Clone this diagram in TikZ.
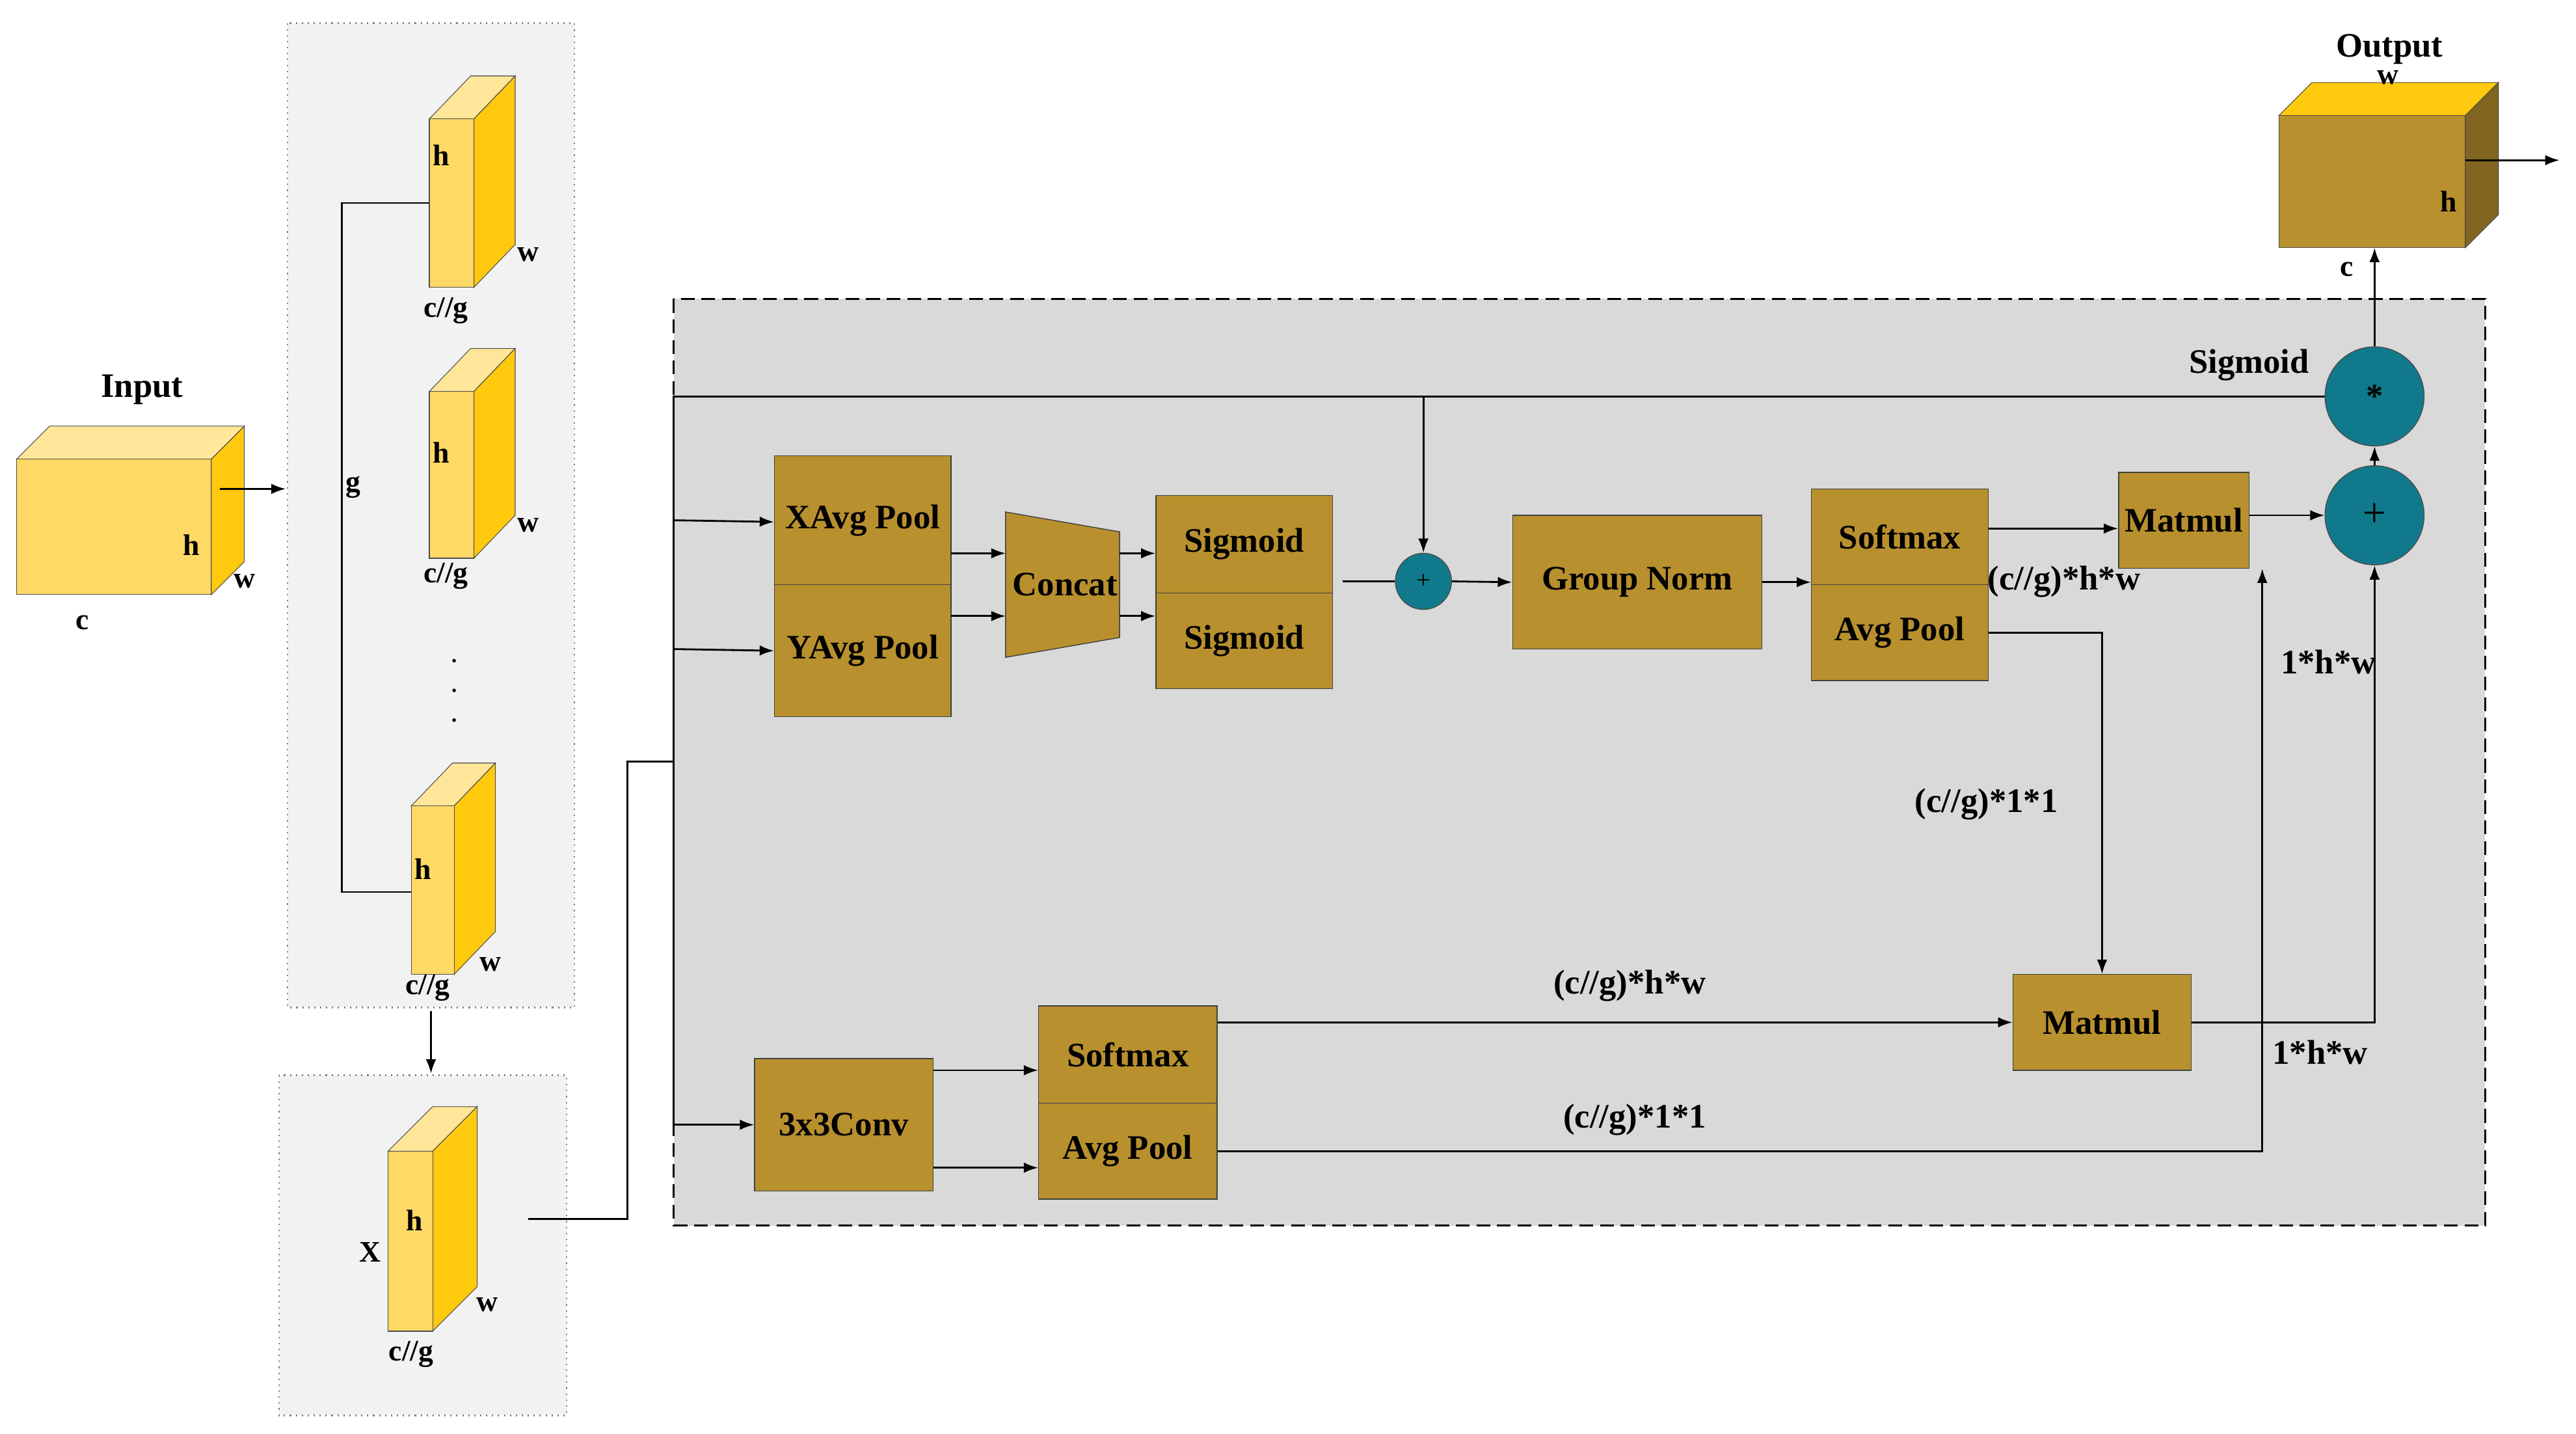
\documentclass[tikz,border=0pt]{standalone}
\usepackage{fontspec}
\setmainfont{Liberation Serif}
\usetikzlibrary{arrows.meta,fit,calc}
\definecolor{boxc}{HTML}{B8902E}
\definecolor{cfront}{HTML}{FFD966}
\definecolor{cside}{HTML}{FFC90E}
\definecolor{ctop}{HTML}{FFE699}
\definecolor{teal}{HTML}{107A8C}
\newcommand\pu{0.02538cm}
% cube: x1 y1 x2 y2 (front) dx dy front side top
\newcommand\mycube[9]{%
 \filldraw[draw=gray!60!black,line width=0.3pt,fill=#9] (#1,#2)--++(#5,-#6)--(#3+#5,#2-#6)--(#3,#2)--cycle;
 \filldraw[draw=gray!60!black,line width=0.3pt,fill=#8] (#3,#2)--(#3+#5,#2-#6)--(#3+#5,#4-#6)--(#3,#4)--cycle;
 \filldraw[draw=gray!60!black,line width=0.3pt,fill=#7] (#1,#2) rectangle (#3,#4);}
\begin{document}
\begin{tikzpicture}[x=\pu,y=-\pu,
 font=\fontsize{15}{18}\selectfont\bfseries,
 box/.style={draw=gray!50!black,line width=0.4pt,fill=boxc,inner sep=0pt,text=black},
 arr/.style={-{Latex[length=2.2mm,width=1.6mm]},line width=0.8pt},
 ln/.style={line width=0.8pt},
 lab/.style={inner sep=0pt},
 sm/.style={inner sep=0pt,font=\fontsize{13}{15}\selectfont\bfseries}]
\useasboundingbox (0,0) rectangle (1560,868);
% panels
\filldraw[fill=gray!10,draw=gray,dotted,line width=0.6pt] (174,14) rectangle (348,610);
\filldraw[fill=gray!10,draw=gray,dotted,line width=0.6pt] (169,651) rectangle (343,857);
\filldraw[fill=gray!30,draw=black,dashed,line width=0.9pt,dash pattern=on 6pt off 3pt] (408,181) rectangle (1505,742);
% input cube
\mycube{10}{278}{128}{360}{20}{20}{cfront}{cside}{ctop}
\node[lab] (tin) at (86,236) {Input};
\node[sm] at (116,330) {h};
\node[sm] at (148,352) {w};
\node[sm] at (50,377) {c};
\coordinate (inA) at (133,296);
\coordinate (inB) at (173,296);
\draw[arr] (inA) -- (inB);
% thin cubes
\mycube{260}{72}{287}{174}{25}{26}{cfront}{cside}{ctop}
\node[sm] at (267,94) {h}; \node[sm] at (320,154) {w}; \node[sm] at (270,188) {c//g};
\mycube{260}{237}{287}{338}{25}{26}{cfront}{cside}{ctop}
\node[sm] at (267,274) {h}; \node[sm] at (320,318) {w}; \node[sm] at (270,349) {c//g};
\foreach \yy in {400,418,436} \fill (275,\yy) circle (0.8pt);
\mycube{249}{488}{275}{590}{25}{26}{cfront}{cside}{ctop}
\node[sm] at (256,526) {h}; \node[sm] at (297,584) {w}; \node[sm] at (259,598) {c//g};
\draw[line width=0.6pt] (260,123) -- (207,123) -- (207,540) -- (249,540);
\node[sm] at (214,295) {g};
\coordinate (pA) at (261,612); \coordinate (pB) at (261,650);
\draw[arr] (pA) -- (pB);
% X cube
\mycube{235}{697}{262}{806}{27}{27}{cfront}{cside}{ctop}
\node[sm] at (251,739) {h}; \node[sm] at (295,790) {w}; \node[sm] at (249,820) {c//g};
\node[sm] at (224,758) {X};
\draw[ln] (320,738) -- (380,738) -- (380,461) -- (408,461);
% trunk
\draw[ln] (408,681) -- (408,240) -- (1408,240);
% boxes
\node[box,fit={(469,276)(576,354)}] (xa) {};
\node at (xa.center) {XAvg Pool};
\node[box,fit={(469,354)(576,434)}] (ya) {};
\node at (ya.center) {YAvg Pool};
\filldraw[fill=boxc,draw=gray!50!black,line width=0.4pt] (609,310) -- (678,322) -- (678,386) -- (609,398) -- cycle;
\node (cc) at (645,354) {Concat};
\node[box,fit={(700,300)(807,359)}] (s1) {};
\node at (s1.center) {Sigmoid};
\node[box,fit={(700,359)(807,417)}] (s2) {};
\node at (s2.center) {Sigmoid};
\node[box,fit={(916,312)(1067,393)}] (gn) {};
\node at (gn.center) {Group Norm};
\node[box,fit={(1097,296)(1204,354)}] (sm1) {};
\node at (sm1.center) {Softmax};
\node[box,fit={(1097,354)(1204,412)}] (ap1) {};
\node at (ap1.center) {Avg Pool};
\node[box,fit={(1283,286)(1362,344)}] (mm1) {};
\node at (mm1.center) {Matmul};
\node[box,fit={(1219,590)(1327,648)}] (mm2) {};
\node at (mm2.center) {Matmul};
\node[box,fit={(457,641)(565,721)}] (cv) {};
\node at (cv.center) {3x3Conv};
\node[box,fit={(629,609)(737,668)}] (sm2) {};
\node at (sm2.center) {Softmax};
\node[box,fit={(629,668)(737,726)}] (ap2) {};
\node at (ap2.center) {Avg Pool};
% circles
\node[circle,fill=teal,draw=black!70,line width=0.4pt,minimum size=34*\pu,inner sep=0pt,font=\fontsize{11}{12}\selectfont] (p1) at (862,352) {+};
\node[circle,fill=teal,draw=black!70,line width=0.4pt,minimum size=60*\pu,inner sep=0pt] (mul) at (1438,240) {*};
\node[circle,fill=teal,draw=black!70,line width=0.4pt,minimum size=60*\pu,inner sep=0pt,font=\fontsize{18}{20}\selectfont] (p2) at (1438,312) {+};
% output cube
\mycube{1380}{70}{1493}{150}{20}{20}{boxc}{boxc!70!black}{cside}
\node[lab] at (1447,30) {Output};
\node[sm] at (1446,47) {w}; \node[sm] at (1483,122) {h}; \node[sm] at (1421,163) {c};
\coordinate (oA) at (1493,97); \coordinate (oB) at (1550,97);
\draw[arr] (oA) -- (oB);
% connectors
\draw[arr] (408,315) -- (xa.west |- 0,316);
\draw[arr] (408,393) -- (ya.west |- 0,394);
\draw[arr] (408,681) -- (cv.west |- 0,681);
\draw[arr] (576,335) -- (609,335);
\draw[arr] (576,373) -- (609,373);
\draw[arr] (678,335) -- (s1.west |- 0,335);
\draw[arr] (678,373) -- (s2.west |- 0,373);
\draw[arr] (862,240) -- (p1.north);
\draw[ln] (813,352) -- (p1.west);
\draw[arr] (p1.east) -- (gn.west);
\draw[arr] (gn.east) -- (sm1.west |- gn.east);
\draw[arr] (sm1.east |- 0,320) -- (mm1.west |- 0,320);
\draw[arr] (mm1.east |- p2.west) -- (p2.west);
\draw[arr] (p2.north) -- (mul.south);
\draw[arr] (mul.north) -- (1438,150);
\draw[arr] (ap1.east |- 0,383) -- (1273,383) -- (mm2.north -| 1273,0);
\draw[arr] (cv.east |- 0,648) -- (sm2.west |- 0,648);
\draw[arr] (cv.east |- 0,707) -- (ap2.west |- 0,707);
\draw[arr] (sm2.east |- 0,619) -- (mm2.west |- 0,619);
\draw[arr] (ap2.east |- 0,697) -- (1370,697) -- (mm1.south -| 1370,0);
\draw[arr] (mm2.east) -- (1438,619) -- (p2.south);
% labels
\node[lab] at (1362,221) {Sigmoid};
\node[lab] at (1250,352) {(c//g)*h*w};
\node[lab] at (1410,401) {1*h*w};
\node[lab] at (1203,487) {(c//g)*1*1};
\node[lab] at (987,597) {(c//g)*h*w};
\node[lab] at (1405,637) {1*h*w};
\node[lab] at (990,678) {(c//g)*1*1};
\end{tikzpicture}
\end{document}
